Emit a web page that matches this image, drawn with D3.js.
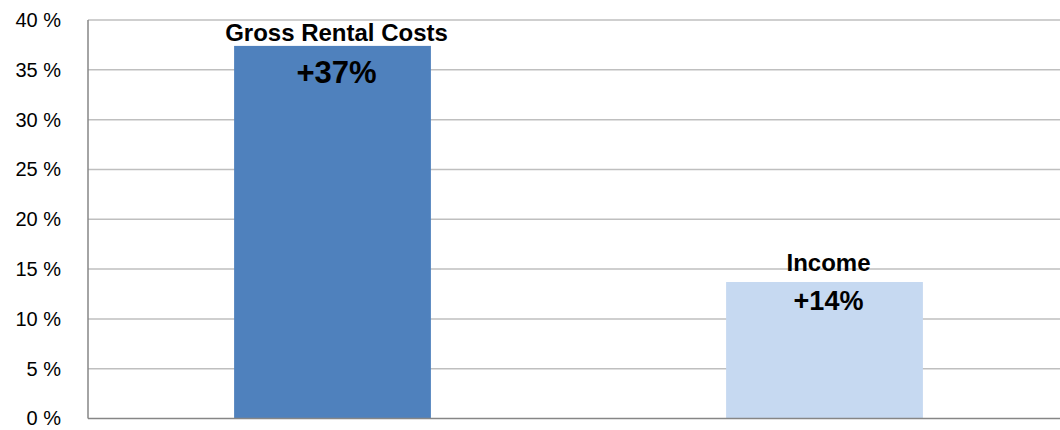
<!DOCTYPE html>
<html>
<head>
<meta charset="utf-8">
<script src="https://cdn.jsdelivr.net/npm/d3@7"></script>
<style>
  body { margin: 0; background: #fff; }
  svg { display: block; }
</style>
</head>
<body>
<script>
var w = 1060;
var h = 430;

var categories = ["Gross Rental Costs", "Income"];
var values = [37.4, 13.7];
var valueLabels = ["+37%", "+14%"];
var yTicks = [0, 5, 10, 15, 20, 25, 30, 35, 40];

// styling per bar
var barColors = ["#4f81bd", "#c6d9f1"];
var valueFontSizes = [31, 27];
var nameOffset = [-4.5, -11.5];
var valueOffset = [37.5, 28];

var plotLeft = 88, plotTop = 20, plotBottom = 418.5, plotRight = 1072;

var x = d3.scaleBand()
  .domain(categories)
  .range([plotLeft - 1.5, plotRight - 1.5])
  .paddingInner(0.6)
  .paddingOuter(0.3);

var y = d3.scaleLinear().domain([0, 40]).range([plotBottom, plotTop]);

//Create SVG element
var svg = d3.select("body").append("svg").attr("width", w).attr("height", h);

// gridlines
svg.append("g")
  .selectAll("line")
  .data(yTicks.filter(function (d) { return d > 0; }))
  .enter()
  .append("line")
  .attr("x1", plotLeft)
  .attr("x2", w)
  .attr("y1", function (d) { return y(d); })
  .attr("y2", function (d) { return y(d); })
  .attr("stroke", "#bfbfbf")
  .attr("stroke-width", 1.5);

// y axis labels
var yAxis = d3.axisLeft(y)
  .tickValues(yTicks)
  .tickSize(0)
  .tickPadding(27)
  .tickFormat(function (d) { return d + " %"; });

var gy = svg.append("g").attr("transform", "translate(" + plotLeft + ",0)").call(yAxis);
gy.select(".domain").remove();
gy.selectAll("text")
  .attr("font-family", "'Liberation Sans', Arial, sans-serif")
  .attr("font-size", "20px")
  .attr("fill", "#000");

// bars
svg.selectAll("rect.bar")
  .data(values)
  .enter()
  .append("rect")
  .attr("class", "bar")
  .attr("x", function (d, i) { return x(categories[i]); })
  .attr("y", function (d) { return y(d); })
  .attr("width", x.bandwidth())
  .attr("height", function (d) { return y(0) - y(d); })
  .attr("fill", function (d, i) { return barColors[i]; });

// axis lines
svg.append("line")
  .attr("x1", plotLeft).attr("x2", plotLeft)
  .attr("y1", plotTop).attr("y2", plotBottom)
  .attr("stroke", "#868686").attr("stroke-width", 1.5);
svg.append("line")
  .attr("x1", plotLeft).attr("x2", w)
  .attr("y1", plotBottom).attr("y2", plotBottom)
  .attr("stroke", "#868686").attr("stroke-width", 1.5);

// labels
svg.selectAll("text.name")
  .data(values)
  .enter()
  .append("text")
  .attr("class", "name")
  .text(function (d, i) { return categories[i]; })
  .attr("x", function (d, i) { return x(categories[i]) + x.bandwidth() / 2 + 4; })
  .attr("y", function (d, i) { return y(d) + nameOffset[i]; })
  .attr("text-anchor", "middle")
  .attr("font-family", "'Liberation Sans', Arial, sans-serif")
  .attr("font-weight", "bold")
  .attr("font-size", "24px")
  .attr("fill", "#000");

svg.selectAll("text.val")
  .data(values)
  .enter()
  .append("text")
  .attr("class", "val")
  .text(function (d, i) { return valueLabels[i]; })
  .attr("x", function (d, i) { return x(categories[i]) + x.bandwidth() / 2 + 4; })
  .attr("y", function (d, i) { return y(d) + valueOffset[i]; })
  .attr("text-anchor", "middle")
  .attr("font-family", "'Liberation Sans', Arial, sans-serif")
  .attr("font-weight", "bold")
  .attr("font-size", function (d, i) { return valueFontSizes[i] + "px"; })
  .attr("fill", "#000");
</script>
</body>
</html>
